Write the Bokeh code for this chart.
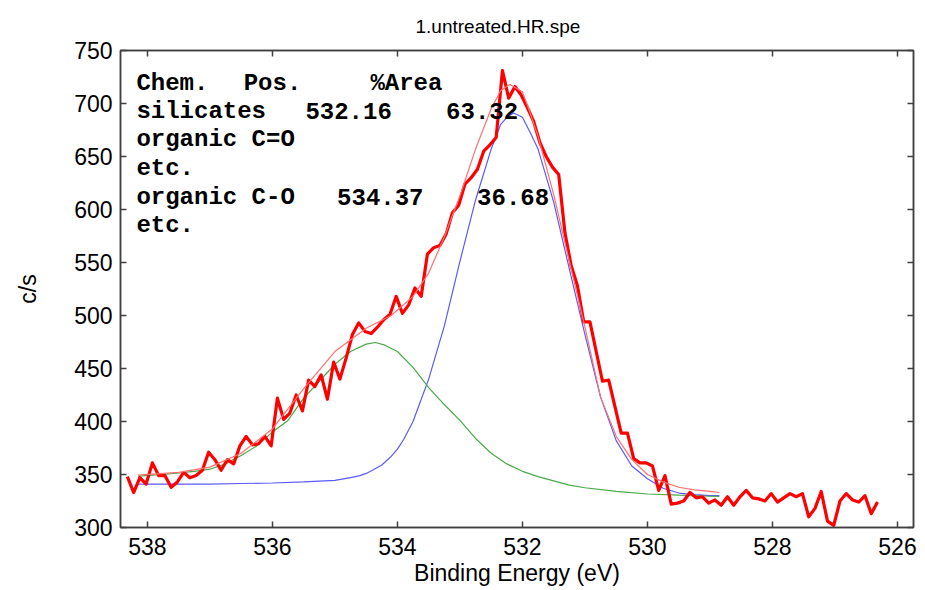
import numpy as np
from bokeh.plotting import figure
from bokeh.models import Range1d, LinearAxis, FixedTicker, Label
from bokeh.embed import file_html
from bokeh.resources import INLINE

# measured spectrum (binding energy grid, 0.1 eV step) and counts
energy = np.round(538.32 - 0.1 * np.arange(121), 2)
counts = [348, 333, 347, 341, 361, 349, 349, 338, 343, 352,
          347, 349, 354, 371, 364, 354, 364, 360, 377, 386,
          378, 379, 386, 377, 422, 402, 408, 425, 410, 439,
          433, 444, 421, 456, 440, 460, 482, 493, 485, 483,
          489, 496, 501, 518, 502, 510, 526, 518, 558, 564,
          566, 577, 597, 604, 624, 630, 638, 655, 661, 668,
          731, 705, 716, 708, 696, 683, 663, 650, 640, 633,
          578, 547, 528, 494, 494, 466, 438, 439, 414, 389,
          389, 365, 361, 361, 358, 335, 349, 322, 323, 325,
          333, 328, 329, 323, 326, 321, 329, 321, 329, 335,
          328, 327, 325, 332, 324, 328, 332, 329, 332, 310,
          318, 334, 306, 302, 325, 332, 326, 324, 330, 313,
          324]

# silicates component (blue)
si_e = [538.15, 537.5, 537.0, 536.5, 536.0, 535.5, 535.0, 534.75, 534.6, 534.5,
        534.4, 534.25, 534.1, 534.0, 533.9, 533.75, 533.6, 533.5, 533.25, 533.0,
        532.75, 532.5, 532.35, 532.25, 532.14, 532.0, 531.87, 531.75, 531.5, 531.25,
        531.0, 530.75, 530.5, 530.25, 530.0, 529.75, 529.5, 529.25, 529.0, 528.85]
si_v = [341, 341, 341, 341.5, 342, 343, 344.5, 347, 349, 351,
        354, 359, 367, 374, 383, 400, 424, 440, 490, 551,
        609, 657, 680, 687, 691, 687, 672, 657, 607, 544,
        482, 423, 382, 358, 346, 337, 332.5, 331, 330, 330]

# organic C-O component (green)
org_e = [538.15, 537.75, 537.25, 537.0, 536.75, 536.5, 536.25, 536.0, 535.75, 535.5,
         535.25, 535.0, 534.75, 534.5, 534.35, 534.2, 534.0, 533.75, 533.5, 533.25,
         533.0, 532.75, 532.5, 532.25, 532.0, 531.75, 531.5, 531.25, 531.0, 530.5,
         530.0, 529.5, 529.0, 528.85]
org_v = [348.5, 350, 353, 355, 360, 368, 377, 390, 401, 422,
         438, 454, 466, 473, 474.5, 472, 466, 451, 432, 416,
         401, 384, 370, 360, 353, 348, 344, 340, 337.5, 334,
         331.6, 330.5, 329.5, 329.3]

# fit envelope (light red)
env_e = [538.15, 537.5, 537.0, 536.5, 536.0, 535.5, 535.0, 534.5, 534.1, 533.75,
         533.5, 533.25, 533.0, 532.75, 532.5, 532.35, 532.2, 532.0, 531.9, 531.75,
         531.5, 531.25, 531.0, 530.75, 530.5, 530.25, 530.0, 529.75, 529.5, 529.25,
         529.0, 528.85]
env_v = [349.5, 352, 357, 370, 393, 431, 466, 488, 500, 518,
         540, 574, 613, 657, 695, 712, 718, 711, 695, 669,
         614, 551, 489, 423, 386, 364, 350, 343, 338, 335.5,
         334, 333]

x_ticks = [526, 528, 530, 532, 534, 536, 538]
y_ticks = [300, 350, 400, 450, 500, 550, 600, 650, 700, 750]

title_text = "1.untreated.HR.spe"
rows = [
    [("Chem.", 538.176), ("Pos.", 536.459), ("%Area", 534.432)],
    [("silicates", 538.176), ("532.16", 535.472), ("63.32", 533.221)],
    [("organic C=O", 538.176)],
    [("etc.", 538.176)],
    [("organic C-O", 538.176), ("534.37", 534.965), ("36.68", 532.725)],
    [("etc.", 538.176)],
]
row_y = [719, 692.5, 665.8, 638.4, 611.6, 584.9]

AX = "#404040"
SANS = "Liberation Sans"

p = figure(width=925, height=590, output_backend="svg", toolbar_location=None,
           x_range=Range1d(538.43, 525.744), y_range=Range1d(300, 750),
           min_border_left=120, min_border_right=12, min_border_top=50,
           min_border_bottom=63, title=title_text)
p.title.align = "left"
p.title.offset = 295
p.title.standoff = 24
p.title.vertical_align = "top"
p.title.text_font = SANS
p.title.text_font_style = "normal"
p.title.text_font_size = "19px"
p.title.text_color = "#000000"
p.grid.visible = False
p.outline_line_color = AX
p.outline_line_width = 1.5
p.background_fill_color = "white"
p.border_fill_color = "white"

for ax in (p.xaxis[0], p.yaxis[0]):
    ax.major_tick_in = 6
    ax.major_tick_out = 0
    ax.minor_tick_line_color = None
    ax.axis_line_color = AX
    ax.axis_line_width = 1.5
    ax.major_tick_line_color = AX
    ax.major_tick_line_width = 1.5
    ax.major_label_text_font = SANS
    ax.major_label_text_font_size = "23px"
    ax.major_label_text_color = "#000000"
    ax.axis_label_text_font = SANS
    ax.axis_label_text_font_size = "23px"
    ax.axis_label_text_font_style = "normal"
    ax.axis_label_text_color = "#000000"

p.xaxis[0].ticker = FixedTicker(ticks=x_ticks)
p.yaxis[0].ticker = FixedTicker(ticks=y_ticks)
p.xaxis[0].axis_label = "Binding Energy (eV)"
p.yaxis[0].axis_label = "c/s"
p.xaxis[0].major_label_standoff = 10
p.xaxis[0].axis_label_standoff = 2
p.yaxis[0].major_label_standoff = 8
p.yaxis[0].axis_label_standoff = 30

top_ax = LinearAxis(ticker=FixedTicker(ticks=x_ticks))
right_ax = LinearAxis(ticker=FixedTicker(ticks=y_ticks))
for ax in (top_ax, right_ax):
    ax.major_tick_in = 6
    ax.major_tick_out = 0
    ax.minor_tick_line_color = None
    ax.axis_line_color = AX
    ax.axis_line_width = 1.5
    ax.major_tick_line_color = AX
    ax.major_tick_line_width = 1.5
    ax.major_label_text_color = None
    ax.major_label_text_font_size = "1px"
    ax.major_label_standoff = 0
p.add_layout(top_ax, "above")
p.add_layout(right_ax, "right")

p.line(si_e, si_v, line_color="#5a5aff", line_width=1.2)
p.line(org_e, org_v, line_color="#4aa84a", line_width=1.2)
p.line(energy, counts, line_color="#ff0000", line_width=3.2, line_join="round")
p.line(env_e, env_v, line_color="#ff7070", line_width=1.2)

for items, yv in zip(rows, row_y):
    for txt, xv in items:
        p.add_layout(Label(x=xv, y=yv, text=txt, text_font="Liberation Mono",
                           text_font_style="bold", text_font_size="24px",
                           text_baseline="middle", text_align="left",
                           text_color="#000000"))

open("out.html", "w").write(file_html(p, INLINE))
